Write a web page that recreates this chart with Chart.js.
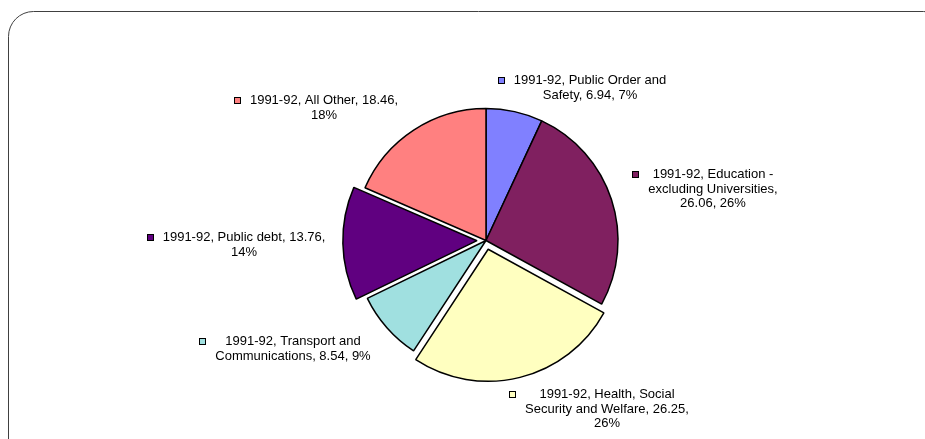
<!DOCTYPE html>
<html>
<head>
<meta charset="utf-8">
<script src="https://cdn.jsdelivr.net/npm/chart.js@4"></script>
<style>
  html, body { margin: 0; padding: 0; background: #ffffff; }
  #wrap { position: relative; width: 925px; height: 439px; }
</style>
</head>
<body>
<div id="wrap"><canvas id="pieChart" width="925" height="439"></canvas></div>
<script>
// Data
const seriesName = "1991-92";
const categories = [
  "Public Order and Safety",
  "Education - excluding Universities",
  "Health, Social Security and Welfare",
  "Transport and Communications",
  "Public debt",
  "All Other",
];
const values = [6.94, 26.06, 26.25, 8.54, 13.76, 18.46];
const exploded = [false, false, true, false, true, false];

// Styles
const sliceColors = ["#8080ff", "#802060", "#ffffc0", "#a0e0e0", "#600080", "#ff8080"];
const fontFamily = "'Liberation Sans', Arial, sans-serif";

// Label layout: block centre x and first line y, relative to pie centre, plus wrap width
const labelLayout = [
  { dx: 104, dy: -160, wrap: 165 },
  { dx: 227, dy: -66, wrap: 145 },
  { dx: 121, dy: 154, wrap: 175 },
  { dx: -193, dy: 101, wrap: 175 },
  { dx: -242, dy: -3, wrap: 175 },
  { dx: -162, dy: -140, wrap: 165 },
];

const total = values.reduce((a, b) => a + b, 0);

const labelText = (i) =>
  `${seriesName}, ${categories[i]}, ${values[i].toFixed(2)}, ${Math.round(values[i] / total * 100)}%`;

const wrapText = (ctx, text, maxWidth) => {
  const words = text.split(" ");
  const lines = [];
  let line = "";
  words.forEach(word => {
    const test = line ? line + " " + word : word;
    if (line && ctx.measureText(test).width > maxWidth) {
      lines.push(line);
      line = word;
    } else {
      line = test;
    }
  });
  if (line) lines.push(line);
  return lines;
};

// Rounded frame behind chart
const framePlugin = {
  id: "frame",
  beforeDraw(chart) {
    const ctx = chart.ctx;
    ctx.save();
    ctx.strokeStyle = "#404040";
    ctx.lineWidth = 1;
    ctx.beginPath();
    ctx.roundRect(8.5, 11.5, 940, 470, 25);
    ctx.stroke();
    ctx.restore();
  },
};

// Data labels with colour key
const labelPlugin = {
  id: "pieLabels",
  afterDatasetsDraw(chart) {
    const ctx = chart.ctx;
    const meta = chart.getDatasetMeta(0);
    const arc0 = meta.data[0];
    const cx = arc0.x, cy = arc0.y;
    ctx.save();
    ctx.font = `13px ${fontFamily}`;
    ctx.fillStyle = "#000000";
    ctx.textAlign = "center";
    ctx.textBaseline = "middle";
    values.forEach((v, i) => {
      const lay = labelLayout[i];
      const lines = wrapText(ctx, labelText(i), lay.wrap);
      const bx = cx + lay.dx, by = cy + lay.dy;
      const widest = Math.max(...lines.map(l => ctx.measureText(l).width));
      lines.forEach((l, k) => ctx.fillText(l, bx, by + k * 14.5));
      const sx = Math.round(bx - widest / 2 - 9 - 7) + 0.5;
      const sy = Math.round(by - 4) + 0.5;
      ctx.fillStyle = sliceColors[i];
      ctx.fillRect(sx, sy, 6, 6);
      ctx.strokeStyle = "#000000";
      ctx.lineWidth = 1;
      ctx.strokeRect(sx, sy, 6, 6);
      ctx.fillStyle = "#000000";
    });
    ctx.restore();
  },
};

// Chart.js moves an arc by offset / 4 pixels
const pieOptions = {
  type: "pie",
  data: {
    labels: categories,
    datasets: [
      {
        label: seriesName,
        data: values,
        backgroundColor: sliceColors,
        hoverBackgroundColor: sliceColors,
        borderColor: "#000000",
        hoverBorderColor: "#000000",
        borderWidth: 1.5,
        offset: exploded.map(e => (e ? 36 : 0)),
        hoverOffset: 0,
      },
    ],
  },
  options: {
    responsive: false,
    animation: false,
    radius: 132,
    layout: { padding: { left: 47, right: 0, top: 42, bottom: 0 } },
    plugins: {
      legend: { display: false },
      tooltip: { enabled: false },
    },
  },
  plugins: [framePlugin, labelPlugin],
};

const ctx = document.getElementById("pieChart").getContext("2d");
const pieChart = new Chart(ctx, pieOptions);
</script>
</body>
</html>
